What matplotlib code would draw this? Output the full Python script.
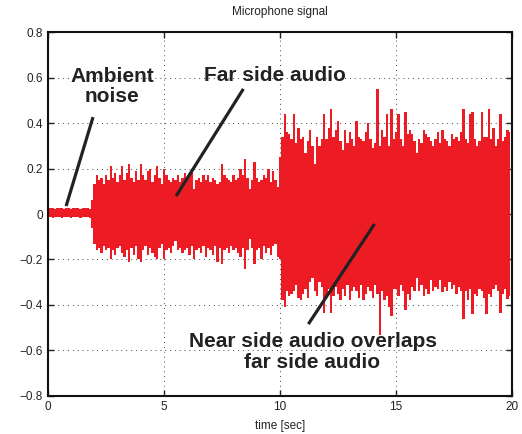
import numpy as np
import matplotlib
matplotlib.use("Agg")
import matplotlib.pyplot as plt

# envelope of the microphone signal, read every 0.1 s
t = np.arange(200) * 0.1

hi = [0.024, 0.026, 0.025, 0.024, 0.026, 0.025, 0.025, 0.024, 0.026, 0.025,
      0.024, 0.025, 0.026, 0.025, 0.024, 0.025, 0.026, 0.025, 0.024, 0.06,
      0.13, 0.17, 0.15, 0.16, 0.13, 0.17, 0.15, 0.21, 0.16, 0.18,
      0.14, 0.17, 0.21, 0.15, 0.18, 0.22, 0.16, 0.14, 0.19, 0.15,
      0.22, 0.17, 0.15, 0.19, 0.2, 0.14, 0.17, 0.21, 0.16, 0.13,
      0.2, 0.17, 0.15, 0.14, 0.16, 0.15, 0.17, 0.14, 0.16, 0.18,
      0.15, 0.17, 0.19, 0.11, 0.15, 0.16, 0.14, 0.17, 0.15, 0.17,
      0.14, 0.16, 0.15, 0.13, 0.14, 0.22, 0.17, 0.16, 0.15, 0.14,
      0.17, 0.15, 0.16, 0.2, 0.17, 0.24, 0.16, 0.11, 0.15, 0.23,
      0.16, 0.14, 0.15, 0.17, 0.16, 0.2, 0.14, 0.19, 0.15, 0.12,
      0.25, 0.34, 0.44, 0.36, 0.35, 0.33, 0.44, 0.31, 0.38, 0.33,
      0.34, 0.27, 0.32, 0.37, 0.3, 0.22, 0.34, 0.3, 0.33, 0.44,
      0.33, 0.38, 0.46, 0.34, 0.37, 0.41, 0.32, 0.28, 0.37, 0.31,
      0.36, 0.33, 0.3, 0.41, 0.34, 0.33, 0.32, 0.36, 0.4, 0.33,
      0.29, 0.31, 0.55, 0.3, 0.37, 0.34, 0.44, 0.3, 0.46, 0.33,
      0.36, 0.44, 0.33, 0.3, 0.45, 0.35, 0.37, 0.35, 0.32, 0.27,
      0.33, 0.31, 0.37, 0.35, 0.34, 0.32, 0.3, 0.33, 0.36, 0.31,
      0.37, 0.33, 0.32, 0.3, 0.35, 0.33, 0.34, 0.32, 0.36, 0.46,
      0.33, 0.31, 0.44, 0.45, 0.33, 0.3, 0.32, 0.45, 0.34, 0.34,
      0.46, 0.33, 0.38, 0.3, 0.33, 0.44, 0.32, 0.34, 0.37, 0.36]

lo = [-0.015, -0.014, -0.016, -0.015, -0.014, -0.015, -0.016, -0.015, -0.014, -0.015,
      -0.016, -0.015, -0.014, -0.015, -0.016, -0.015, -0.014, -0.015, -0.016, -0.06,
      -0.13, -0.16, -0.15, -0.17, -0.14, -0.16, -0.15, -0.2, -0.16, -0.18,
      -0.15, -0.14, -0.17, -0.19, -0.16, -0.21, -0.15, -0.18, -0.14, -0.2,
      -0.21, -0.16, -0.14, -0.18, -0.15, -0.17, -0.19, -0.2, -0.15, -0.13,
      -0.2, -0.16, -0.15, -0.17, -0.14, -0.12, -0.16, -0.15, -0.17, -0.16,
      -0.15, -0.18, -0.14, -0.2, -0.16, -0.15, -0.17, -0.14, -0.19, -0.15,
      -0.16, -0.18, -0.14, -0.21, -0.15, -0.22, -0.16, -0.15, -0.17, -0.14,
      -0.16, -0.15, -0.17, -0.19, -0.15, -0.24, -0.16, -0.11, -0.15, -0.22,
      -0.16, -0.15, -0.2, -0.14, -0.17, -0.15, -0.18, -0.14, -0.13, -0.19,
      -0.2, -0.38, -0.41, -0.34, -0.36, -0.35, -0.34, -0.31, -0.37, -0.38,
      -0.35, -0.33, -0.37, -0.3, -0.28, -0.34, -0.36, -0.3, -0.32, -0.435,
      -0.37, -0.33, -0.435, -0.36, -0.32, -0.35, -0.38, -0.33, -0.36, -0.31,
      -0.38, -0.34, -0.32, -0.34, -0.37, -0.31, -0.38, -0.35, -0.32, -0.34,
      -0.37, -0.31, -0.35, -0.53, -0.34, -0.38, -0.36, -0.41, -0.45, -0.33,
      -0.33, -0.36, -0.31, -0.34, -0.42, -0.35, -0.38, -0.32, -0.34, -0.28,
      -0.34, -0.31, -0.36, -0.33, -0.35, -0.29, -0.34, -0.32, -0.33, -0.29,
      -0.345, -0.32, -0.34, -0.3, -0.33, -0.31, -0.35, -0.32, -0.34, -0.46,
      -0.34, -0.38, -0.33, -0.44, -0.35, -0.36, -0.33, -0.34, -0.37, -0.44,
      -0.35, -0.365, -0.33, -0.31, -0.34, -0.435, -0.35, -0.33, -0.375, -0.36]

yticks = [-0.8, -0.6, -0.4, -0.2, 0, 0.2, 0.4, 0.6, 0.8]
ylabels = ['\u22120.8', '\u22120.6', '\u22120.4', '\u22120.2', '0', '0.2', '0.4', '0.6', '0.8']
xticks = [0, 5, 10, 15, 20]

plt.rcParams['font.family'] = ['Liberation Sans', 'DejaVu Sans']

fig = plt.figure(figsize=(5.22, 4.34), dpi=100)
ax = fig.add_axes([0.092, 0.0876, 0.889, 0.8386])

ax.fill_between(t, lo, hi, step='mid', color='#ED1C24', lw=0, zorder=2)

ax.set_xlim(0, 20)
ax.set_ylim(-0.8, 0.8)
ax.set_xticks(xticks)
ax.set_yticks(yticks)
ax.set_yticklabels(ylabels)
ax.tick_params(direction='in', top=True, right=True, length=4, width=1, labelsize=8.5, colors='#222222')
ax.grid(True, linestyle=(0, (1, 4)), color='#444444', linewidth=0.7, zorder=1)
for s in ax.spines.values():
    s.set_linewidth(1.5)
    s.set_color('#111111')

ax.set_title('Microphone signal', fontsize=8.5, pad=12, color='#222222')
ax.set_xlabel('time [sec]', fontsize=8.5, labelpad=5, color='#222222')

# annotations
txt = dict(fontsize=15, fontweight='bold', ha='center', va='center', color='#222222', linespacing=1.1, zorder=4)
ax.text(2.76, 0.56, 'Ambient\nnoise', **txt)
ax.text(9.8, 0.611, 'Far side audio', **txt)
ax.text(11.4, -0.607, 'Near side audio overlaps\nfar side audio', **txt)

lk = dict(color='#222222', lw=2.3, solid_capstyle='butt', zorder=3)
ax.plot([1.94, 0.78], [0.426, 0.035], **lk)
ax.plot([8.42, 5.52], [0.55, 0.079], **lk)
ax.plot([14.07, 11.22], [-0.044, -0.484], **lk)

fig.savefig('out.png', dpi=100)
